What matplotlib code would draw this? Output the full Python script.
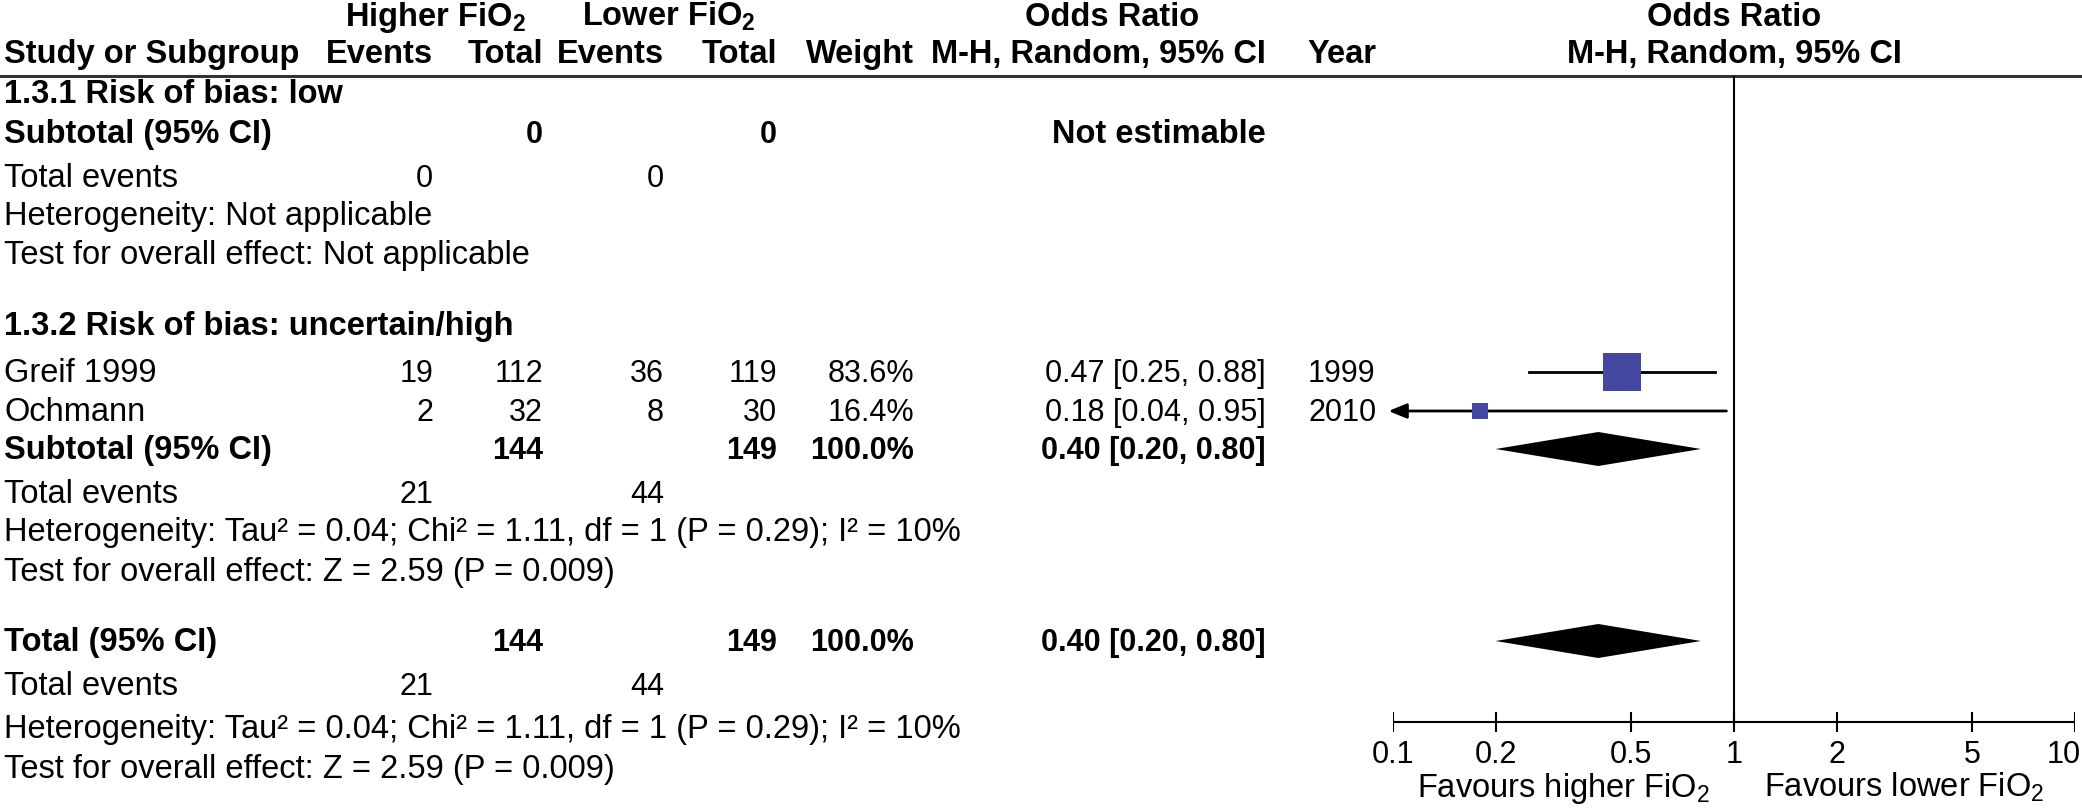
import matplotlib
matplotlib.use("Agg")
import matplotlib.pyplot as plt
from matplotlib import font_manager, transforms

# pick a condensed sans if we have one
names = {f.name for f in font_manager.fontManager.ttflist}
if "Liberation Sans Narrow" in names:
    FONT, FS, FS_NUM = "Liberation Sans Narrow", 26, 25
else:
    FONT, FS, FS_NUM = "Liberation Sans", 23.5, 22
plt.rcParams["font.family"] = [FONT, "DejaVu Sans"]
plt.rcParams["mathtext.default"] = "regular"

# data
studies = ["Greif 1999", "Ochmann"]
hi_events = [19, 2]
hi_total = [112, 32]
lo_events = [36, 8]
lo_total = [119, 30]
weights = [83.6, 16.4]
or_est = [0.47, 0.18]
ci_low = [0.25, 0.04]
ci_high = [0.88, 0.95]
years = [1999, 2010]

sub_or, sub_lo, sub_hi = 0.40, 0.20, 0.80
sub_hi_total, sub_lo_total = 144, 149
sub_hi_events, sub_lo_events = 21, 44
het_text = "Heterogeneity: Tau² = 0.04; Chi² = 1.11, df = 1 (P = 0.29); I² = 10%"
z_text = "Test for overall effect: Z = 2.59 (P = 0.009)"

ticks = [0.1, 0.2, 0.5, 1, 2, 5, 10]
tick_labels = ["0.1", "0.2", "0.5", "1", "2", "5", "10"]

# row centres (pixels from top)
rows = {
    "h1": 16, "h2": 53,
    "g1": 93, "g1_sub": 133, "g1_ev": 177, "g1_het": 215, "g1_z": 254,
    "g2": 325, "s1": 372, "s2": 411, "g2_sub": 449, "g2_ev": 493, "g2_het": 531, "g2_z": 571,
    "tot": 641, "tot_ev": 685, "tot_het": 728, "tot_z": 768,
}
study_rows = [rows["s1"], rows["s2"]]

# column anchors (pixels)
X_NAME, X_HE, X_HT, X_LE, X_LT, X_W, X_OR, X_YR = 4, 433, 543, 664, 777, 914, 1266, 1308

W, H = 2082, 809
fig = plt.figure(figsize=(W / 100, H / 100), dpi=100)
ax = fig.add_axes([0, 0, 1, 1])
ax.set_xlim(0, W)
ax.set_ylim(H, 0)
ax.axis("off")


def txt(x, key, s, ha="left", bold=False, num=False):
    y = rows[key] if key in rows else key
    ax.text(x, y + 10, s, ha=ha, va="baseline",
            fontsize=FS_NUM if num else FS, fontweight="bold" if bold else "normal")


# header
txt(435, "h1", "Higher FiO$_2$", ha="center", bold=True)
txt(669, "h1", "Lower FiO$_2$", ha="center", bold=True)
txt(1112, "h1", "Odds Ratio", ha="center", bold=True)
txt(1734, "h1", "Odds Ratio", ha="center", bold=True)
txt(X_NAME, "h2", "Study or Subgroup", bold=True)
txt(X_HE, "h2", "Events", ha="right", bold=True)
txt(X_HT, "h2", "Total", ha="right", bold=True)
txt(X_LE, "h2", "Events", ha="right", bold=True)
txt(X_LT, "h2", "Total", ha="right", bold=True)
txt(X_W, "h2", "Weight", ha="right", bold=True)
txt(X_OR, "h2", "M-H, Random, 95% CI", ha="right", bold=True)
txt(X_YR, "h2", "Year", bold=True)
txt(1734, "h2", "M-H, Random, 95% CI", ha="center", bold=True)
ax.plot([0, W], [76, 76], color="#333333", lw=2.2)

# subgroup 1.3.1
txt(X_NAME, "g1", "1.3.1 Risk of bias: low", bold=True)
txt(X_NAME, "g1_sub", "Subtotal (95% CI)", bold=True)
txt(X_HT, "g1_sub", "0", ha="right", bold=True, num=True)
txt(X_LT, "g1_sub", "0", ha="right", bold=True, num=True)
txt(X_OR, "g1_sub", "Not estimable", ha="right", bold=True)
txt(X_NAME, "g1_ev", "Total events")
txt(X_HE, "g1_ev", "0", ha="right", num=True)
txt(X_LE, "g1_ev", "0", ha="right", num=True)
txt(X_NAME, "g1_het", "Heterogeneity: Not applicable")
txt(X_NAME, "g1_z", "Test for overall effect: Not applicable")

# subgroup 1.3.2
txt(X_NAME, "g2", "1.3.2 Risk of bias: uncertain/high", bold=True)
for i, y in enumerate(study_rows):
    txt(X_NAME, y, studies[i])
    txt(X_HE, y, str(hi_events[i]), ha="right", num=True)
    txt(X_HT, y, str(hi_total[i]), ha="right", num=True)
    txt(X_LE, y, str(lo_events[i]), ha="right", num=True)
    txt(X_LT, y, str(lo_total[i]), ha="right", num=True)
    txt(X_W, y, f"{weights[i]:.1f}%", ha="right", num=True)
    txt(X_OR, y, f"{or_est[i]:.2f} [{ci_low[i]:.2f}, {ci_high[i]:.2f}]", ha="right", num=True)
    txt(X_YR, y, str(years[i]), num=True)

sub_str = f"{sub_or:.2f} [{sub_lo:.2f}, {sub_hi:.2f}]"
for lab, k_sub, k_ev, k_het, k_z in [("Subtotal (95% CI)", "g2_sub", "g2_ev", "g2_het", "g2_z"),
                                     ("Total (95% CI)", "tot", "tot_ev", "tot_het", "tot_z")]:
    txt(X_NAME, k_sub, lab, bold=True)
    txt(X_HT, k_sub, str(sub_hi_total), ha="right", bold=True, num=True)
    txt(X_LT, k_sub, str(sub_lo_total), ha="right", bold=True, num=True)
    txt(X_W, k_sub, f"{sum(weights):.1f}%", ha="right", bold=True, num=True)
    txt(X_OR, k_sub, sub_str, ha="right", bold=True, num=True)
    txt(X_NAME, k_ev, "Total events")
    txt(X_HE, k_ev, str(sub_hi_events), ha="right", num=True)
    txt(X_LE, k_ev, str(sub_lo_events), ha="right", num=True)
    txt(X_NAME, k_het, het_text)
    txt(X_NAME, k_z, z_text)

# forest panel
x0, x1 = 1393, 2075
fa = fig.add_axes([x0 / W, 0, (x1 - x0) / W, 1])
fa.set_xscale("log")
fa.set_xlim(0.1, 10)
fa.set_ylim(H, 0)
fa.axis("off")

AXIS_Y = 722
fa.plot([1, 1], [77, AXIS_Y], color="black", lw=1.5)
fa.plot([0.1, 10], [AXIS_Y, AXIS_Y], color="black", lw=1.5)
fa.vlines(ticks, AXIS_Y - 10, AXIS_Y + 10, color="black", lw=1.5)
for t, lab in zip(ticks, tick_labels):
    if t == ticks[-1]:
        # last label hugs the right edge, as in the original
        tr = transforms.offset_copy(fa.transData, fig=fig, x=6, y=0, units="dots")
        fa.text(t, 763, lab, ha="right", va="baseline", fontsize=FS_NUM, transform=tr)
    else:
        fa.text(t, 763, lab, ha="center", va="baseline", fontsize=FS_NUM)
fa.text(10 ** -0.5, 797, "Favours higher FiO$_2$", ha="center", va="baseline", fontsize=FS)
fa.text(10 ** 0.5, 797, "Favours lower FiO$_2$", ha="center", va="baseline", fontsize=FS)

for i, y in enumerate(study_rows):
    lo = ci_low[i]
    if lo < 0.1:
        fa.annotate("", xy=(0.097, y), xytext=(ci_high[i], y), annotation_clip=False,
                    arrowprops=dict(arrowstyle="-|>,head_length=1.1,head_width=0.45",
                                    color="black", lw=2, shrinkA=0, shrinkB=0))
    else:
        fa.plot([lo, ci_high[i]], [y, y], color="black", lw=2)
    side = 4.16 * weights[i] ** 0.5 * 0.72
    fa.scatter([or_est[i]], [y], s=side ** 2, marker="s", color="#4347a0", zorder=3, linewidths=0)

for key in ["g2_sub", "tot"]:
    y = rows[key]
    fa.fill([sub_lo, sub_or, sub_hi, sub_or], [y, y - 17, y, y + 17], color="black", lw=0)

fig.savefig("out.png", dpi=100)
